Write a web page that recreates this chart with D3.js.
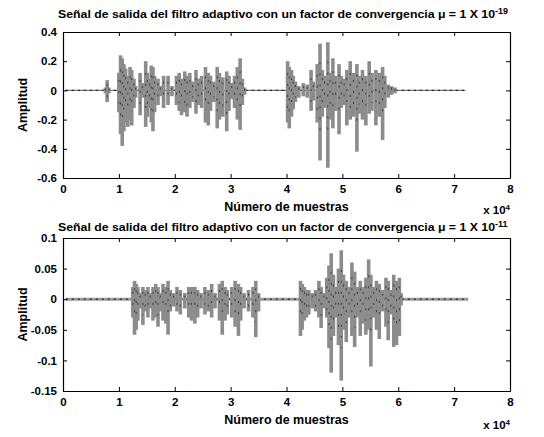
<!DOCTYPE html>
<html>
<head>
<meta charset="utf-8">
<script src="https://cdn.jsdelivr.net/npm/d3@7"></script>
<style>
  html, body { margin: 0; padding: 0; background: #fff; }
  svg { display: block; }
  text { font-family: "Liberation Sans", Arial, sans-serif; font-weight: bold; fill: #000; }
</style>
</head>
<body>
<svg id="chart" width="544" height="437"></svg>
<script>
// Sample axis ticks (in units of 10^4 samples)
const xTicks = [0, 1, 2, 3, 4, 5, 6, 7, 8];

// Output with mu = 1e-19: burst positions (samples), upper and lower excursions
const topPos = [7600, 7900, 8200,
  10000, 10300, 10600, 10900, 11200, 11600, 12000, 12300, 12700, 13000,
  13800, 14200, 14800, 15100, 15500, 15800, 16100, 16400, 17000, 17400,
  18000, 18800, 19500, 20300, 20800, 21200, 21800, 22200, 22700, 23200,
  23800, 24200, 24800, 25500, 26000, 26400, 27000, 27600, 28000, 28600,
  29300, 29700, 30200, 30700, 31200, 31700, 32100, 32500,
  40200, 40500, 40900, 41200, 41600, 42200, 43000, 43700, 44400, 44800,
  45500, 46000, 46400, 46800, 47400, 47800, 48300, 48800, 49400, 49800,
  50300, 50800, 51400, 52000, 52600, 53000, 53600, 54200, 54800, 55300,
  56000, 56600, 57200, 57600, 58200, 58800, 59400];
const topHi = [0.02, 0.07, 0.02,
  0.12, 0.24, 0.22, 0.18, 0.15, 0.10, 0.16, 0.14, 0.08, 0.03,
  0.12, 0.05, 0.20, 0.12, 0.08, 0.17, 0.16, 0.10, 0.08, 0.03,
  0.10, 0.10, 0.03, 0.10, 0.12, 0.08, 0.13, 0.10, 0.12, 0.06,
  0.14, 0.08, 0.10, 0.16, 0.12, 0.10, 0.06, 0.16, 0.12, 0.09,
  0.13, 0.10, 0.05, 0.10, 0.16, 0.22, 0.08, 0.02,
  0.20, 0.16, 0.14, 0.10, 0.06, 0.03, 0.05, 0.04, 0.14, 0.06,
  0.18, 0.32, 0.14, 0.10, 0.33, 0.12, 0.22, 0.10, 0.18, 0.10,
  0.08, 0.14, 0.20, 0.12, 0.18, 0.10, 0.14, 0.10, 0.20, 0.12,
  0.14, 0.12, 0.16, 0.10, 0.04, 0.03, 0.02];
const topLo = [-0.02, -0.08, -0.02,
  -0.15, -0.30, -0.38, -0.28, -0.22, -0.25, -0.20, -0.24, -0.12, -0.05,
  -0.17, -0.05, -0.25, -0.18, -0.12, -0.22, -0.28, -0.15, -0.10, -0.04,
  -0.12, -0.10, -0.04, -0.10, -0.14, -0.17, -0.15, -0.18, -0.12, -0.08,
  -0.16, -0.10, -0.12, -0.22, -0.24, -0.14, -0.08, -0.26, -0.20, -0.18,
  -0.28, -0.14, -0.06, -0.12, -0.20, -0.27, -0.10, -0.03,
  -0.22, -0.26, -0.18, -0.13, -0.08, -0.05, -0.04, -0.05, -0.14, -0.07,
  -0.22, -0.48, -0.18, -0.12, -0.53, -0.20, -0.26, -0.14, -0.30, -0.12,
  -0.10, -0.24, -0.20, -0.18, -0.42, -0.16, -0.20, -0.24, -0.16, -0.14,
  -0.24, -0.18, -0.34, -0.12, -0.05, -0.03, -0.02];

// Output with mu = 1e-11
const botPos = [12500, 12800, 13100, 13400, 13800, 14300, 14700, 15200, 15600,
  16100, 16600, 17000, 17400, 17900, 18400, 18800, 19200, 19800, 20400,
  21000, 21800, 22500, 23000, 23600, 24100, 24700, 25400, 26000, 26600,
  27200, 28000, 28500, 29000, 29400, 30200, 30800, 31400, 31800, 32400,
  33200, 34000, 34500, 35000,
  42500, 42800, 43200, 43600, 44000, 44600, 45200, 45800, 46200, 46700,
  47200, 47600, 48000, 48400, 48800, 49300, 49800, 50200, 50700, 51200,
  51700, 52200, 52700, 53200, 53700, 54200, 54700, 55100, 55600, 56100,
  56600, 57200, 57800, 58200, 58700, 59200, 59700, 60200, 60500];
const botHi = [0.02, 0.03, 0.025, 0.02, 0.01, 0.02, 0.015, 0.02, 0.01,
  0.02, 0.025, 0.02, 0.01, 0.025, 0.02, 0.03, 0.015, 0.01, 0.02,
  0.015, 0.01, 0.02, 0.02, 0.02, 0.015, 0.01, 0.02, 0.015, 0.025,
  0.01, 0.025, 0.03, 0.02, 0.015, 0.02, 0.03, 0.025, 0.02, 0.01,
  0.015, 0.02, 0.03, 0.01,
  0.03, 0.025, 0.02, 0.015, 0.015, 0.01, 0.015, 0.03, 0.02, 0.01,
  0.035, 0.055, 0.075, 0.04, 0.02, 0.05, 0.08, 0.04, 0.03, 0.02,
  0.06, 0.045, 0.02, 0.03, 0.02, 0.035, 0.065, 0.04, 0.02, 0.03,
  0.025, 0.015, 0.035, 0.03, 0.015, 0.04, 0.03, 0.035, 0.01];
const botLo = [-0.03, -0.058, -0.05, -0.035, -0.015, -0.042, -0.02, -0.03, -0.015,
  -0.035, -0.03, -0.045, -0.02, -0.035, -0.04, -0.058, -0.02, -0.012, -0.02,
  -0.025, -0.015, -0.03, -0.035, -0.04, -0.03, -0.015, -0.025, -0.02, -0.03,
  -0.015, -0.035, -0.058, -0.035, -0.025, -0.03, -0.045, -0.06, -0.035, -0.015,
  -0.02, -0.03, -0.062, -0.02,
  -0.06, -0.05, -0.035, -0.03, -0.025, -0.015, -0.02, -0.03, -0.047, -0.015,
  -0.03, -0.08, -0.12, -0.06, -0.03, -0.075, -0.133, -0.05, -0.07, -0.03,
  -0.06, -0.078, -0.03, -0.06, -0.04, -0.058, -0.05, -0.11, -0.03, -0.05,
  -0.065, -0.02, -0.045, -0.067, -0.025, -0.078, -0.075, -0.06, -0.01];

const topYTicks = [0.4, 0.2, 0, -0.2, -0.4, -0.6];
const botYTicks = [0.1, 0.05, 0, -0.05, -0.1, -0.15];

const panels = [
  { exp: "-19", pos: topPos, hi: topHi, lo: topLo, yTicks: topYTicks,
    domain: [-0.6, 0.4], span: [500, 72000], top: 32, bottom: 178,
    titleY: 18, expY: 214, band: false },
  { exp: "-11", pos: botPos, hi: botHi, lo: botLo, yTicks: botYTicks,
    domain: [-0.15, 0.1], span: [500, 72500], top: 238, bottom: 391,
    titleY: 231, expY: 429, band: true }
];

const svg = d3.select("#chart");
const left = 63, right = 510;
const x = d3.scaleLinear().domain([0, 80000]).range([left, right]);

panels.forEach(p => {
  const y = d3.scaleLinear().domain(p.domain).range([p.bottom, p.top]);
  const g = svg.append("g");

  // silent-stretch baseline
  g.append("line")
    .attr("x1", x(p.span[0])).attr("x2", x(p.span[1]))
    .attr("y1", y(0)).attr("y2", y(0))
    .attr("stroke", p.band ? "#9a9a9a" : "#777")
    .attr("stroke-width", p.band ? 3 : 1.2);
  g.append("line")
    .attr("x1", x(p.span[0])).attr("x2", x(p.span[1]))
    .attr("y1", y(0)).attr("y2", y(0))
    .attr("stroke", "#222").attr("stroke-width", 1.2)
    .attr("stroke-dasharray", "2,4");

  // speech bursts
  const idx = d3.range(p.pos.length);
  g.selectAll("rect.burst").data(idx).join("rect")
    .attr("class", "burst")
    .attr("x", i => x(p.pos[i]) - 1.8)
    .attr("width", 3.6)
    .attr("y", i => y(p.hi[i]))
    .attr("height", i => y(p.lo[i]) - y(p.hi[i]))
    .attr("fill", "#8c8c8c");
  g.selectAll("line.core").data(idx).join("line")
    .attr("class", "core")
    .attr("x1", i => x(p.pos[i])).attr("x2", i => x(p.pos[i]))
    .attr("y1", i => y(p.hi[i] * 0.6))
    .attr("y2", i => y(p.lo[i] * 0.6))
    .attr("stroke", "#3a3a3a").attr("stroke-width", 1)
    .attr("stroke-dasharray", "2,9");

  // axes box with inward ticks on all sides
  const xb = d3.axisBottom(x).tickValues(xTicks.map(t => t * 10000))
    .tickFormat(d => d / 10000).tickSizeInner(-4).tickSizeOuter(0).tickPadding(7);
  const xt = d3.axisTop(x).tickValues(xTicks.map(t => t * 10000))
    .tickFormat("").tickSizeInner(-4).tickSizeOuter(0);
  const yl = d3.axisLeft(y).tickValues(p.yTicks)
    .tickFormat(d => String(d)).tickSizeInner(-4).tickSizeOuter(0).tickPadding(6);
  const yr = d3.axisRight(y).tickValues(p.yTicks)
    .tickFormat("").tickSizeInner(-4).tickSizeOuter(0);

  const ax = [
    g.append("g").attr("transform", `translate(0,${p.bottom})`).call(xb),
    g.append("g").attr("transform", `translate(0,${p.top})`).call(xt),
    g.append("g").attr("transform", `translate(${left},0)`).call(yl),
    g.append("g").attr("transform", `translate(${right},0)`).call(yr)
  ];
  ax.forEach(a => {
    a.selectAll("path").attr("stroke", "#000").attr("stroke-width", 1.2);
    a.selectAll("line").attr("stroke", "#000");
    a.selectAll("text").style("font-size", "11.5px")
      .style("font-family", '"Liberation Sans", Arial, sans-serif').style("font-weight", "bold");
  });

  // title
  const t = g.append("text")
    .attr("x", 58).attr("y", p.titleY)
    .attr("text-anchor", "start").style("font-size", "11.5px");
  t.append("tspan")
    .attr("textLength", 437).attr("lengthAdjust", "spacingAndGlyphs")
    .text("Señal de salida del filtro adaptivo con un factor de convergencia μ = 1 X 10");
  t.append("tspan").attr("dy", -4).style("font-size", "9px").text(p.exp);

  // axis labels
  g.append("text")
    .attr("x", (left + right) / 2).attr("y", p.bottom + 33)
    .attr("text-anchor", "middle").style("font-size", "12.5px")
    .text("Número de muestras");
  g.append("text")
    .attr("transform", `translate(27,${(p.top + p.bottom) / 2}) rotate(-90)`)
    .attr("text-anchor", "middle").style("font-size", "12.5px")
    .text("Amplitud");

  // exponent of the sample axis
  const e = g.append("text")
    .attr("x", right).attr("y", p.expY)
    .attr("text-anchor", "end").style("font-size", "11.5px");
  e.append("tspan").text("x 10");
  e.append("tspan").attr("dy", -4).style("font-size", "8px").text("4");
});
</script>
</body>
</html>
